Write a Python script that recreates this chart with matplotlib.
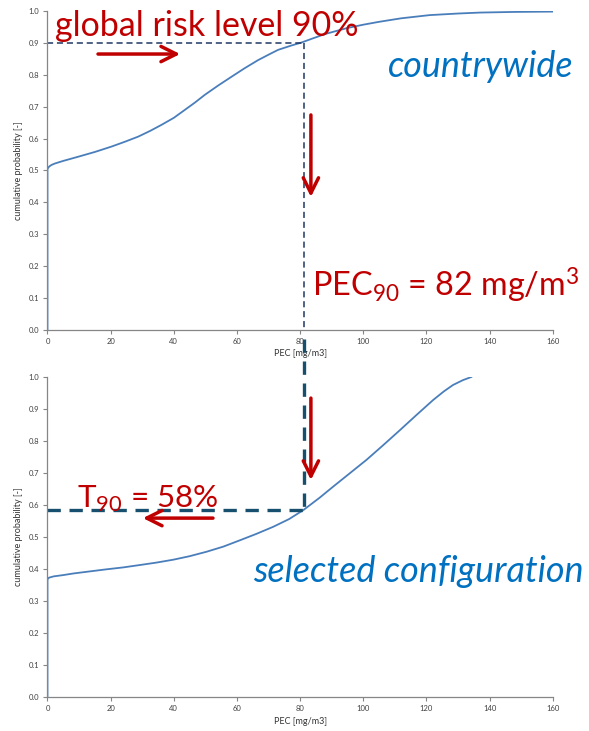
import numpy as np
import matplotlib.pyplot as plt
from matplotlib.ticker import FormatStrFormatter

plt.rcParams['font.family'] = ['Lato', 'DejaVu Sans']
plt.rcParams['mathtext.fontset'] = 'custom'
plt.rcParams['mathtext.rm'] = 'Lato'
plt.rcParams['mathtext.it'] = 'Lato:italic'

# countrywide cumulative distribution
pec_cw = [0, 0, 0.5, 1.2, 2.4, 5, 9.7, 15, 20.3, 24.5, 28.7, 32.5, 36.1, 40, 43.5, 46.7,
          49.8, 54, 58.3, 62.5, 66.7, 70, 73, 77, 80.4, 84, 88, 94.7, 100, 105, 112,
          121, 130, 137, 148, 160]
prob_cw = [0, 0.505, 0.512, 0.517, 0.522, 0.53, 0.543, 0.558, 0.575, 0.59, 0.606, 0.624,
           0.643, 0.665, 0.69, 0.713, 0.737, 0.766, 0.794, 0.821, 0.846, 0.863, 0.878,
           0.891, 0.901, 0.914, 0.928, 0.946, 0.957, 0.966, 0.977, 0.987, 0.992, 0.995,
           0.997, 0.998]

# selected configuration cumulative distribution
pec_sel = [0, 0, 0.5, 2, 5, 8.2, 13, 18.7, 24, 29.3, 34.5, 39.8, 45, 50.4, 55.7, 61,
           66.2, 71.5, 76.5, 81, 86.2, 90.4, 95.7, 101, 106.3, 111.6, 116.8, 122.1,
           125.5, 128.4, 131.5, 134.2]
prob_sel = [0, 0.368, 0.373, 0.377, 0.381, 0.386, 0.392, 0.399, 0.405, 0.4125, 0.42,
            0.429, 0.44, 0.454, 0.47, 0.49, 0.51, 0.532, 0.556, 0.584, 0.623, 0.657,
            0.699, 0.741, 0.787, 0.834, 0.881, 0.928, 0.955, 0.975, 0.99, 1.0]

risk_level = 0.9
pec90 = 82
pec90_x = 81.3
t90 = 0.584

xticks = [0, 20, 40, 60, 80, 100, 120, 140, 160]
yticks = [0.0, 0.1, 0.2, 0.3, 0.4, 0.5, 0.6, 0.7, 0.8, 0.9, 1.0]

red = '#C00000'
blue_txt = '#0070C0'
curve_c = '#4A7EBB'
spine_c = '#868686'

fig = plt.figure(figsize=(5.89, 7.31), dpi=100)
ax1 = fig.add_axes([0.0806, 0.5486, 0.858, 0.4364])
ax2 = fig.add_axes([0.0806, 0.0465, 0.858, 0.4378])

for ax in (ax1, ax2):
    ax.set_xlim(0, 160)
    ax.set_ylim(0, 1)
    ax.set_xticks(xticks)
    ax.set_yticks(yticks)
    ax.yaxis.set_major_formatter(FormatStrFormatter('%.1f'))
    for s in ('top', 'right'):
        ax.spines[s].set_visible(False)
    for s in ('left', 'bottom'):
        ax.spines[s].set_color(spine_c)
        ax.spines[s].set_linewidth(0.9)
    ax.tick_params(direction='out', length=3, width=0.8, color=spine_c,
                   labelsize=5.5, labelcolor='#404040', pad=3)
    ax.set_xlabel('PEC [mg/m3]', fontsize=6.5, color='#333333', labelpad=3)
    ax.set_ylabel('cumulative probability [-]', fontsize=6.5, color='#333333', labelpad=4)

ax1.plot(pec_cw, prob_cw, color=curve_c, lw=1.3)
ax2.plot(pec_sel, prob_sel, color=curve_c, lw=1.3)

# top: thin dashed guide lines
navy = '#1F3864'
ax1.plot([0, pec90_x], [risk_level, risk_level], color=navy, lw=1.1, dashes=(4, 2.5), clip_on=False)
ax1.plot([pec90_x, pec90_x], [risk_level, 0], color=navy, lw=1.1, dashes=(4, 2.5), clip_on=False)

# bottom: thick dashed guide lines
teal = '#17506E'
ax2.plot([pec90_x, pec90_x], [1.12, t90], color=teal, lw=2.4, dashes=(4, 2.6), clip_on=False)
ax2.plot([0, pec90_x], [t90, t90], color=teal, lw=2.4, dashes=(4, 2.6), clip_on=False)

arrow = dict(arrowstyle='->,head_length=1.1,head_width=0.55', color=red, lw=2.5,
             shrinkA=0, shrinkB=0)
ax1.annotate('', xy=(42, 0.865), xytext=(16, 0.865), arrowprops=arrow, annotation_clip=False)
ax1.annotate('', xy=(83.4, 0.417), xytext=(83.4, 0.674), arrowprops=arrow, annotation_clip=False)
ax2.annotate('', xy=(83.4, 0.678), xytext=(83.4, 0.934), arrowprops=arrow, annotation_clip=False)
ax2.annotate('', xy=(30.2, 0.559), xytext=(52.4, 0.559), arrowprops=arrow, annotation_clip=False)

ax1.text(2.4, 0.922, 'global risk level 90%', color=red, fontsize=24.5, va='baseline', clip_on=False)
ax1.text(107.8, 0.793, 'countrywide', color=blue_txt, fontsize=25.8, style='italic', va='baseline')
ax1.text(83.7, 0.103, r'PEC$_{90}$ = %d mg/m$^3$' % pec90, color=red, fontsize=23.3, va='baseline')
ax2.text(9.3, 0.594, r'T$_{90}$ = %d%%' % round(t90 * 100), color=red, fontsize=22.6, va='baseline')
ax2.text(65, 0.359, 'selected configuration', color=blue_txt, fontsize=25.9, style='italic',
         va='baseline', clip_on=False)

fig.savefig('out.png', dpi=100)
